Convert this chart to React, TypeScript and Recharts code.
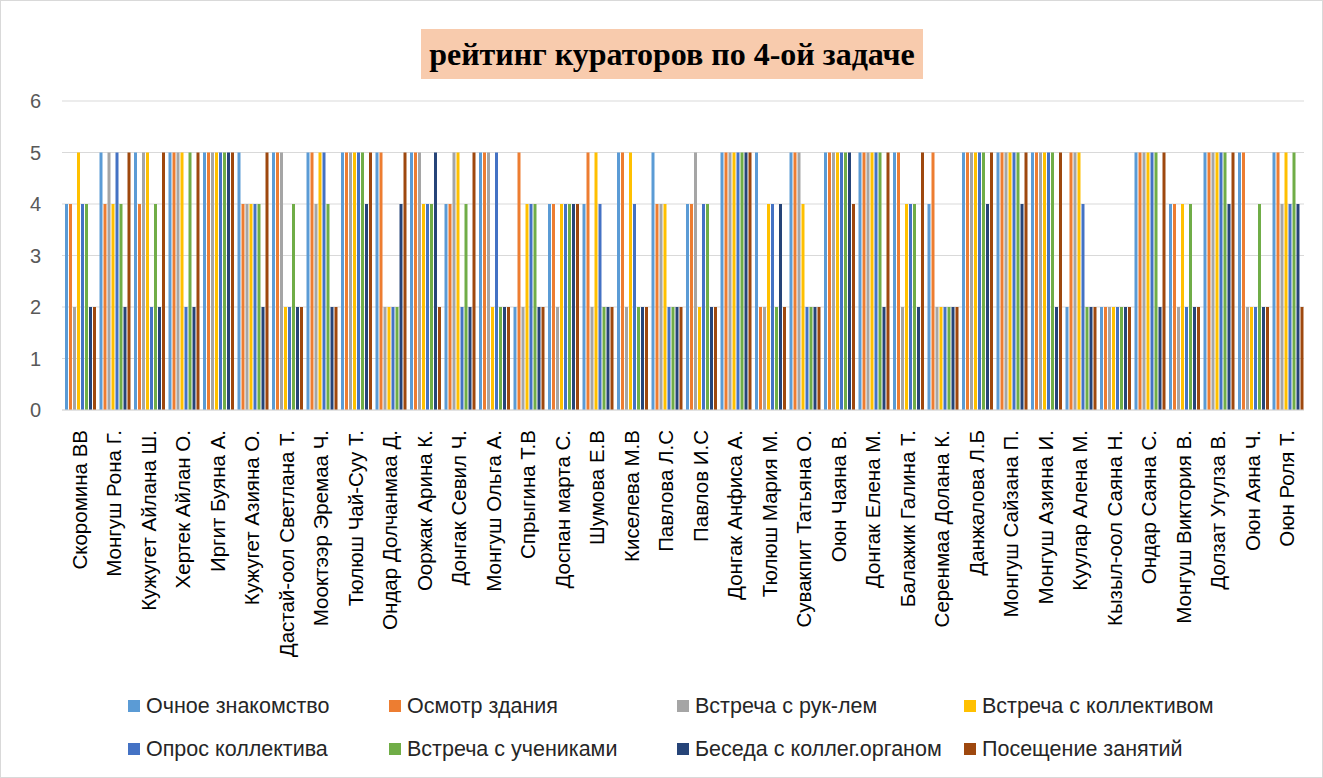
import React from "react";
import { BarChart, Bar, XAxis, YAxis, CartesianGrid } from "recharts";

const curators = [
  "Скоромина ВВ",
  "Монгуш Рона Г.",
  "Кужугет Айлана Ш.",
  "Хертек Айлан О.",
  "Иргит Буяна А.",
  "Кужугет Азияна О.",
  "Дастай-оол Светлана Т.",
  "Мооктээр Эремаа Ч.",
  "Тюлюш Чай-Суу Т.",
  "Ондар Долчанмаа Д.",
  "Ооржак Арина К.",
  "Донгак Севил Ч.",
  "Монгуш Ольга А.",
  "Спрыгина Т.В",
  "Доспан марта С.",
  "Шумова Е.В",
  "Киселева М.В",
  "Павлова Л.С",
  "Павлов И.С",
  "Донгак Анфиса А.",
  "Тюлюш Мария М.",
  "Сувакпит Татьяна О.",
  "Оюн Чаяна В.",
  "Донгак Елена М.",
  "Балажик Галина Т.",
  "Серенмаа Долана К.",
  "Данжалова Л.Б",
  "Монгуш Сайзана П.",
  "Монгуш Азияна И.",
  "Куулар Алена М.",
  "Кызыл-оол Саяна Н.",
  "Ондар Саяна С.",
  "Монгуш Виктория В.",
  "Долзат Угулза В.",
  "Оюн Аяна Ч.",
  "Оюн Роля Т.",
];

// one array per series, in curator order
const ochnoe = [4, 5, 5, 5, 5, 5, 5, 5, 5, 5, 5, 4, 5, 2, 4, 4, 5, 5, 4, 5, 5, 5, 5, 5, 5, 4, 5, 5, 5, 2, 2, 5, 4, 5, 5, 5];
const osmotr = [4, 4, 4, 5, 5, 4, 5, 5, 5, 5, 5, 4, 5, 5, 4, 5, 5, 4, 4, 5, 2, 5, 5, 5, 5, 5, 5, 5, 5, 5, 2, 5, 4, 5, 5, 5];
const rukl = [2, 5, 5, 5, 5, 4, 5, 4, 5, 2, 5, 5, 5, 2, 2, 2, 2, 4, 5, 5, 2, 5, 5, 5, 2, 2, 5, 5, 5, 5, 2, 5, 2, 5, 2, 4];
const kollektiv = [5, 4, 5, 5, 5, 4, 2, 5, 5, 2, 4, 5, 2, 4, 4, 5, 5, 4, 2, 5, 4, 4, 5, 5, 4, 2, 5, 5, 5, 5, 2, 5, 4, 5, 2, 5];
const opros = [4, 5, 2, 2, 5, 4, 2, 5, 5, 2, 4, 2, 5, 4, 4, 4, 4, 2, 4, 5, 4, 2, 5, 5, 4, 2, 5, 5, 5, 4, 2, 5, 2, 5, 2, 4];
const ucheniki = [4, 4, 4, 5, 5, 4, 4, 4, 5, 2, 4, 4, 2, 4, 4, 2, 2, 2, 4, 5, 2, 2, 5, 5, 4, 2, 5, 5, 5, 2, 2, 5, 4, 5, 4, 5];
const beseda = [2, 2, 2, 2, 5, 2, 2, 2, 4, 4, 5, 2, 2, 2, 4, 2, 2, 2, 2, 5, 4, 2, 5, 2, 2, 2, 4, 4, 2, 2, 2, 2, 2, 4, 2, 4];
const poseshenie = [2, 5, 5, 5, 5, 5, 2, 2, 5, 5, 2, 5, 2, 2, 4, 2, 2, 2, 2, 5, 2, 2, 4, 5, 5, 2, 5, 5, 5, 2, 2, 5, 2, 5, 2, 2];

const yTicks = [0, 1, 2, 3, 4, 5, 6];

const series = [
  { key: "ochnoe", name: "Очное знакомство", color: "#5B9BD5", values: ochnoe },
  { key: "osmotr", name: "Осмотр здания", color: "#ED7D31", values: osmotr },
  { key: "rukl", name: "Встреча с рук-лем", color: "#A5A5A5", values: rukl },
  { key: "kollektiv", name: "Встреча с коллективом", color: "#FFC000", values: kollektiv },
  { key: "opros", name: "Опрос коллектива", color: "#4472C4", values: opros },
  { key: "ucheniki", name: "Встреча с учениками", color: "#70AD47", values: ucheniki },
  { key: "beseda", name: "Беседа с коллег.органом", color: "#264478", values: beseda },
  { key: "poseshenie", name: "Посещение занятий", color: "#9E480E", values: poseshenie },
];

const data = curators.map((name, i) => {
  const row: Record<string, string | number> = { name };
  series.forEach((s) => {
    row[s.key] = s.values[i];
  });
  return row;
});

const FONT = "'Liberation Sans', Arial, sans-serif";

function RotatedTick({ x, y, payload }: { x?: number; y?: number; payload?: { value: string } }) {
  return (
    <text
      transform={`translate(${x},${(y ?? 0) + 12}) rotate(-90)`}
      textAnchor="end"
      dominantBaseline="central"
      fontSize={20.5}
      fontFamily={FONT}
      fill="#000"
    >
      {payload?.value}
    </text>
  );
}

const legendCols = [127, 388, 676, 963];
const legendRows = [705, 748];

export default function App() {
  return (
    <div
      style={{
        position: "absolute",
        left: 0,
        top: 0,
        width: 1323,
        height: 778,
        background: "#fff",
        boxSizing: "border-box",
        border: "1px solid #D9D9D9",
      }}
    >
      <div
        style={{
          position: "absolute",
          left: 420,
          top: 28,
          width: 502,
          height: 50,
          background: "#F8CBAD",
          display: "flex",
          alignItems: "center",
          justifyContent: "center",
          fontFamily: "'Liberation Serif', 'Times New Roman', serif",
          fontWeight: "bold",
          fontSize: 32,
          color: "#000",
          whiteSpace: "nowrap",
        }}
      >
        рейтинг кураторов по 4-ой задаче
      </div>

      <div style={{ position: "absolute", left: -1, top: -1 }}>
        <BarChart
          width={1323}
          height={778}
          data={data}
          margin={{ top: 101, right: 19, left: 0, bottom: 108 }}
          barCategoryGap={3}
          barGap={1}
        >
          <CartesianGrid vertical={false} stroke="#D9D9D9" />
          <XAxis
            dataKey="name"
            interval={0}
            height={260}
            tick={<RotatedTick />}
            tickLine={false}
            axisLine={{ stroke: "#D9D9D9" }}
          />
          <YAxis
            width={62}
            domain={[0, 6]}
            ticks={yTicks}
            interval={0}
            tickLine={false}
            axisLine={false}
            tickMargin={15}
            tick={{ fontSize: 20, fontFamily: FONT, fill: "#595959" }}
          />
          {series.map((s) => (
            <Bar key={s.key} dataKey={s.key} name={s.name} fill={s.color} isAnimationActive={false} />
          ))}
        </BarChart>
      </div>

      {series.map((s, i) => (
        <div
          key={s.key}
          style={{
            position: "absolute",
            left: legendCols[i % 4],
            top: legendRows[Math.floor(i / 4)] - 13,
            height: 26,
            display: "flex",
            alignItems: "center",
            fontFamily: FONT,
            fontSize: 21.5,
            color: "#262626",
            whiteSpace: "nowrap",
          }}
        >
          <span style={{ display: "inline-block", width: 12, height: 12, background: s.color, marginRight: 6 }} />
          {s.name}
        </div>
      ))}
    </div>
  );
}
